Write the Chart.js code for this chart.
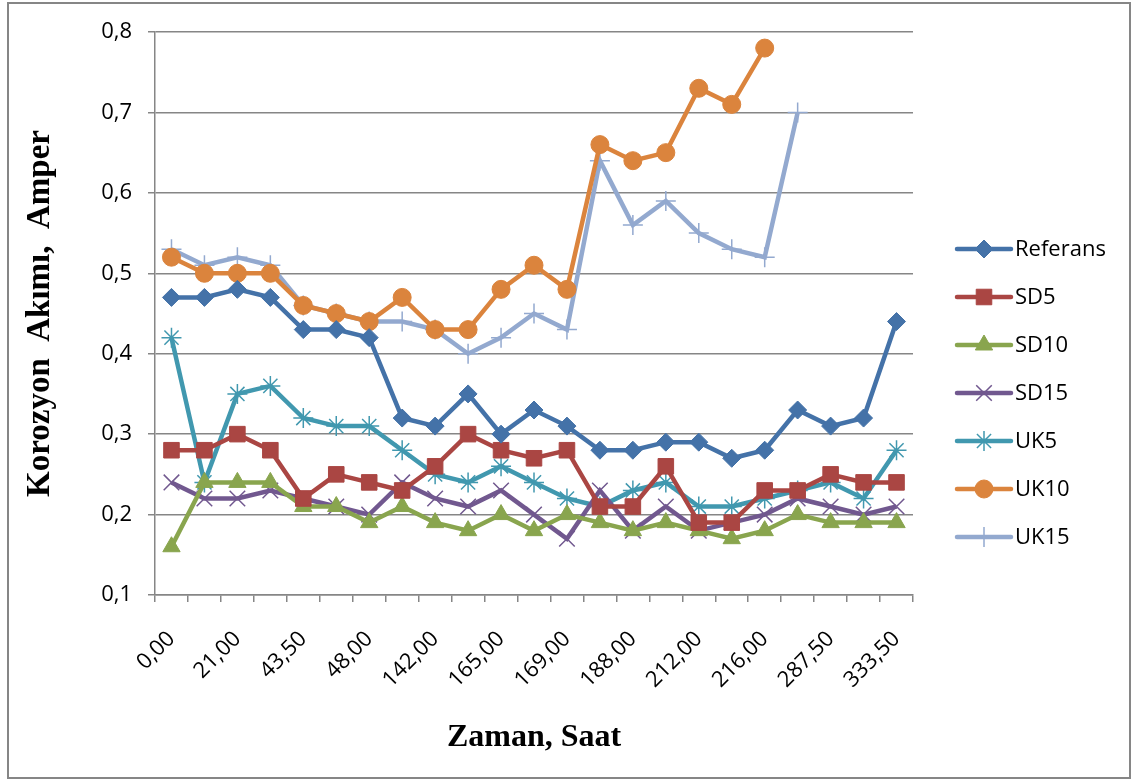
<!DOCTYPE html>
<html>
<head>
<meta charset="utf-8">
<script src="https://cdn.jsdelivr.net/npm/chart.js@4.4.1/dist/chart.umd.min.js"></script>
<style>
  html, body { margin: 0; padding: 0; background: #fff; }
  #wrap { position: relative; width: 1137px; height: 784px; }
</style>
</head>
<body>
<div id="wrap"><canvas id="c" width="1137" height="784"></canvas></div>
<script>
// Category labels (only every other one is shown on the axis)
const categories = ['0,00','17,00','21,00','24,00','43,50','45,00','48,00','72,00','142,00','144,00','165,00','168,00',
                    '169,00','170,00','188,00','192,00','212,00','214,00','216,00','240,00','287,50','312,00','333,50'];

const referans = [0.47,0.47,0.48,0.47,0.43,0.43,0.42,0.32,0.31,0.35,0.30,0.33,0.31,0.28,0.28,0.29,0.29,0.27,0.28,0.33,0.31,0.32,0.44];
const sd5      = [0.28,0.28,0.30,0.28,0.22,0.25,0.24,0.23,0.26,0.30,0.28,0.27,0.28,0.21,0.21,0.26,0.19,0.19,0.23,0.23,0.25,0.24,0.24];
const sd10     = [0.16,0.24,0.24,0.24,0.21,0.21,0.19,0.21,0.19,0.18,0.20,0.18,0.20,0.19,0.18,0.19,0.18,0.17,0.18,0.20,0.19,0.19,0.19];
const sd15     = [0.24,0.22,0.22,0.23,0.22,0.21,0.20,0.24,0.22,0.21,0.23,0.20,0.17,0.23,0.18,0.21,0.18,0.19,0.20,0.22,0.21,0.20,0.21];
const uk5      = [0.42,0.24,0.35,0.36,0.32,0.31,0.31,0.28,0.25,0.24,0.26,0.24,0.22,0.21,0.23,0.24,0.21,0.21,0.22,0.23,0.24,0.22,0.28];
const uk10     = [0.52,0.50,0.50,0.50,0.46,0.45,0.44,0.47,0.43,0.43,0.48,0.51,0.48,0.66,0.64,0.65,0.73,0.71,0.78,null,null,null,null];
const uk15     = [0.53,0.51,0.52,0.51,0.46,0.45,0.44,0.44,0.43,0.40,0.42,0.45,0.43,0.64,0.56,0.59,0.55,0.53,0.52,0.70,null,null,null];

const seriesNames = ['Referans','SD5','SD10','SD15','UK5','UK10','UK15'];
const yTicks = [0.1,0.2,0.3,0.4,0.5,0.6,0.7,0.8];

const styles = [
  { color: '#4472A8', point: 'rectRot',  r: 9,  bw: 1 },
  { color: '#AA4643', point: 'rect',     r: 11, bw: 1 },
  { color: '#89A54E', point: 'triangle', r: 10, bw: 1 },
  { color: '#71588F', point: 'crossRot', r: 11, bw: 1.5 },
  { color: '#4198AF', point: 'star',     r: 10, bw: 1.5 },
  { color: '#DB843D', point: 'circle',   r: 9,  bw: 1 },
  { color: '#93A9CF', point: 'cross',    r: 10, bw: 1.5 }
];
const seriesData = [referans, sd5, sd10, sd15, uk5, uk10, uk15];

const datasets = seriesNames.map((name, i) => ({
  label: name,
  data: seriesData[i],
  borderColor: styles[i].color,
  backgroundColor: styles[i].color,
  borderWidth: 4.5,
  pointStyle: styles[i].point,
  pointRadius: styles[i].r,
  pointHoverRadius: styles[i].r,
  pointBorderWidth: styles[i].bw,
  pointBorderColor: styles[i].color,
  pointBackgroundColor: styles[i].color,
  tension: 0,
  spanGaps: false,
  clip: false
}));

const GRID = '#868686';

const framePlugin = {
  id: 'frame',
  beforeDraw(chart) {
    const ctx = chart.ctx;
    ctx.save();
    ctx.fillStyle = '#ffffff';
    ctx.fillRect(0, 0, chart.width, chart.height);
    ctx.strokeStyle = GRID;
    ctx.lineWidth = 2;
    ctx.strokeRect(8, 3, 1122, 775);
    ctx.restore();
  }
};

function drawMarker(ctx, style, x, y, r) {
  ctx.beginPath();
  switch (style) {
    case 'rectRot':
      ctx.moveTo(x - r, y); ctx.lineTo(x, y - r); ctx.lineTo(x + r, y); ctx.lineTo(x, y + r); ctx.closePath();
      ctx.fill(); ctx.stroke(); break;
    case 'rect': {
      const s = r * Math.SQRT1_2;
      ctx.rect(x - s, y - s, 2 * s, 2 * s); ctx.fill(); ctx.stroke(); break;
    }
    case 'triangle': {
      for (let k = 0; k < 3; k++) {
        const a = k * 2 * Math.PI / 3;
        const px = x + Math.sin(a) * r, py = y - Math.cos(a) * r;
        if (k === 0) ctx.moveTo(px, py); else ctx.lineTo(px, py);
      }
      ctx.closePath(); ctx.fill(); ctx.stroke(); break;
    }
    case 'circle':
      ctx.arc(x, y, r, 0, Math.PI * 2); ctx.fill(); ctx.stroke(); break;
    case 'crossRot': {
      const o = r * Math.SQRT1_2;
      ctx.moveTo(x - o, y - o); ctx.lineTo(x + o, y + o);
      ctx.moveTo(x - o, y + o); ctx.lineTo(x + o, y - o); ctx.stroke(); break;
    }
    case 'cross':
      ctx.moveTo(x - r, y); ctx.lineTo(x + r, y);
      ctx.moveTo(x, y - r); ctx.lineTo(x, y + r); ctx.stroke(); break;
    case 'star': {
      const o = r * Math.SQRT1_2;
      ctx.moveTo(x - o, y - o); ctx.lineTo(x + o, y + o);
      ctx.moveTo(x - o, y + o); ctx.lineTo(x + o, y - o);
      ctx.moveTo(x, y - r); ctx.lineTo(x, y + r); ctx.stroke(); break;
    }
  }
}

const legendPlugin = {
  id: 'excelLegend',
  afterDraw(chart) {
    const ctx = chart.ctx;
    ctx.save();
    chart.data.datasets.forEach((ds, i) => {
      const y = 249 + 48 * i;
      ctx.strokeStyle = ds.borderColor;
      ctx.lineWidth = 4.5;
      ctx.lineCap = 'round';
      ctx.beginPath(); ctx.moveTo(957, y); ctx.lineTo(1011, y); ctx.stroke();
      ctx.lineCap = 'butt';
      ctx.fillStyle = ds.backgroundColor;
      ctx.lineWidth = ds.pointBorderWidth;
      drawMarker(ctx, ds.pointStyle, 984, y, ds.pointRadius);
      ctx.fillStyle = '#000';
      ctx.font = '22px "Open Sans"';
      ctx.textBaseline = 'middle';
      ctx.textAlign = 'left';
      ctx.fillText(ds.label, 1015, y + 1);
    });
    ctx.restore();
  }
};

new Chart(document.getElementById('c'), {
  type: 'line',
  data: { labels: categories, datasets },
  plugins: [framePlugin, legendPlugin],
  options: {
    responsive: false,
    animation: false,
    events: [],
    layout: { padding: { top: 32, right: 224, bottom: 0, left: 0 } },
    plugins: { legend: { display: false }, tooltip: { enabled: false } },
    scales: {
      x: {
        type: 'category',
        offset: true,
        afterFit(s) { s.height = 189; },
        grid: { display: true, drawOnChartArea: false, drawTicks: true, tickLength: 7, offset: true, color: GRID, lineWidth: 1.5 },
        border: { display: true, color: GRID, width: 1.5 },
        ticks: {
          autoSkip: false, minRotation: 45, maxRotation: 45, padding: 24, color: '#000',
          font: { family: '"Open Sans"', size: 22 },
          callback(v, idx) { return idx % 2 === 0 ? categories[idx] : ''; }
        },
        title: {
          display: true, text: 'Zaman, Saat', color: '#000',
          font: { family: '"Liberation Serif"', size: 32, weight: 'bold' },
          padding: 27
        }
      },
      y: {
        min: 0.1, max: 0.8,
        afterFit(s) { s.width = 155; },
        afterBuildTicks(s) { s.ticks = yTicks.map(v => ({ value: v })); },
        grid: { display: true, drawOnChartArea: true, drawTicks: true, tickLength: 7, color: GRID, lineWidth: 1.5 },
        border: { display: true, color: GRID, width: 1.5 },
        ticks: {
          padding: 16, color: '#000',
          font: { family: '"Open Sans"', size: 22 },
          callback(v) { return v.toFixed(1).replace('.', ','); }
        },
        title: {
          display: true, text: 'Korozyon  Akımı,  Amper', color: '#000',
          font: { family: '"Liberation Serif"', size: 33, weight: 'bold' },
          padding: 21
        }
      }
    }
  }
});
</script>
</body>
</html>
